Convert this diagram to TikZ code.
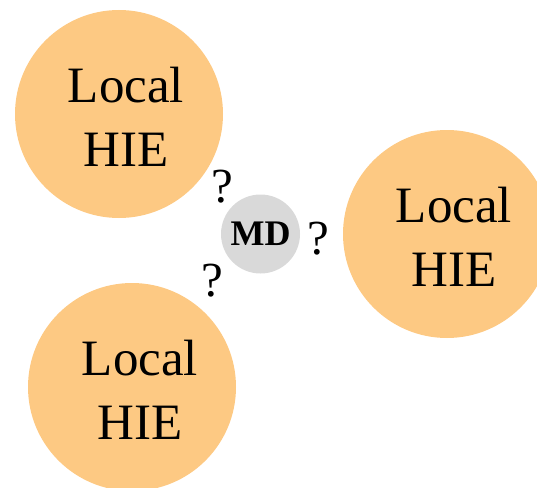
\documentclass[tikz,border=0pt]{standalone}
\usepackage{fontspec}
\setmainfont{Liberation Serif}
\usetikzlibrary{positioning}
\definecolor{orangei}{RGB}{253,201,131}
\definecolor{grayi}{RGB}{217,217,217}
\tikzset{
      hieblock/.style={
        circle,
        fill=orangei,
        minimum size=208pt,
        inner sep=0pt
      },
      hietext/.style={
        align=center,
        font=\fontsize{51}{64}\selectfont,
        inner sep=0pt
      },
      mdblock/.style={
        circle,
        fill=grayi,
        minimum size=79pt,
        inner sep=0pt,
        font=\fontsize{36}{40}\selectfont\bfseries
      },
      qmark/.style={
        font=\fontsize{49}{50}\selectfont,
        inner sep=0pt
      },
    }
\begin{document}
\begin{tikzpicture}[x=1pt,y=-1pt]

            \useasboundingbox (0,0) rectangle (537,487);
            \clip (0,0) rectangle (537,487);

            %HIE locals
            \node[hieblock] (hieA) at (119,114) {};
            \node[hieblock] (hieB) at (447,234) {};
            \node[hieblock] (hieC) at (132,387) {};

            \node[hietext] (textA) at ([xshift=7pt,yshift=-3pt]hieA.center) {Local\\HIE};
            \node[hietext] (textB) at ([xshift=7pt,yshift=-3pt]hieB.center) {Local\\HIE};
            \node[hietext] (textC) at ([xshift=8pt,yshift=-3pt]hieC.center) {Local\\HIE};

            %MD central
            \node[mdblock] (md) at (260.5,234) {MD};

            %Preguntes
            \node[qmark] (qA) at (222,187) {?};
            \node[qmark] (qB) at (318,239) {?};
            \node[qmark] (qC) at (212,281) {?};

          \end{tikzpicture}
\end{document}
